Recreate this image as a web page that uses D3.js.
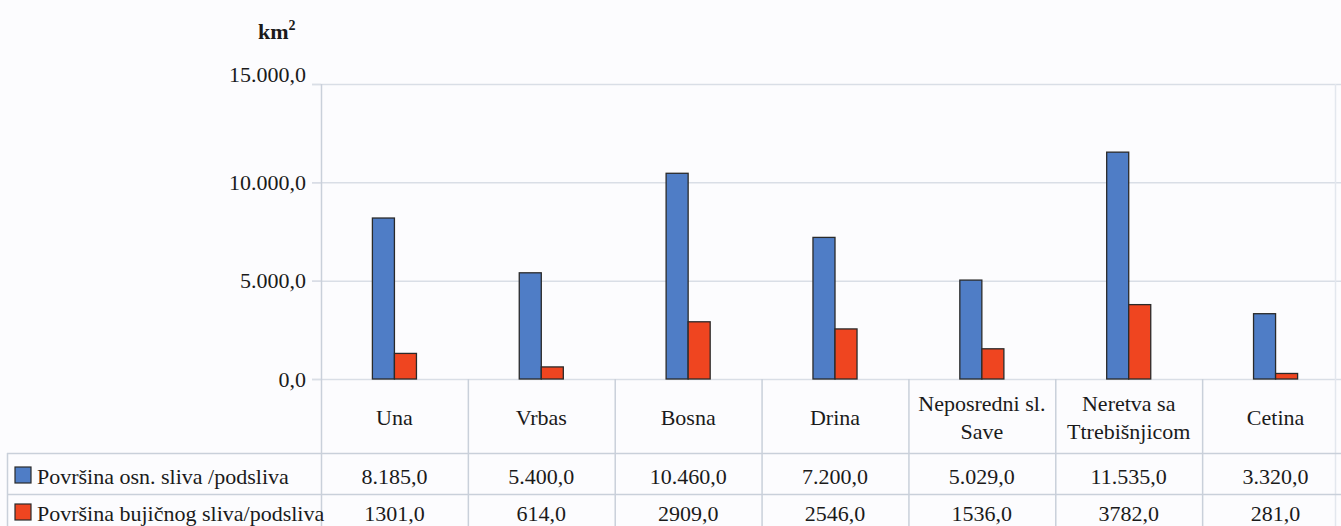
<!DOCTYPE html>
<html>
<head>
<meta charset="utf-8">
<script src="https://cdn.jsdelivr.net/npm/d3@7/dist/d3.min.js"></script>
<style>
  html, body { margin: 0; padding: 0; background: #fcfcfe; }
  svg { display: block; }
</style>
</head>
<body>
<svg id="chart" width="1341" height="526"></svg>
<script>
// ---- data ----
const categories = ["Una", "Vrbas", "Bosna", "Drina", "Neposredni sl.\nSave", "Neretva sa\nTtrebišnjicom", "Cetina"];
const seriesNames = ["Površina osn. sliva /podsliva", "Površina bujičnog sliva/podsliva"];
const basinArea = [8185, 5400, 10460, 7200, 5029, 11535, 3320];
const torrentArea = [1301, 614, 2909, 2546, 1536, 3782, 281];
const yTicks = [0, 5000, 10000, 15000];
const seriesColors = ["#4f7dc6", "#ef4520"];

// ---- setup ----
const FONT = '"Liberation Serif", "Times New Roman", serif';
const svg = d3.select("#chart");
const W = 1341, H = 526;
svg.append("rect").attr("width", W).attr("height", H).attr("fill", "#fcfcfe");

const loc = d3.formatLocale({decimal: ",", thousands: ".", grouping: [3], currency: ["", ""]});
const fmtGrouped = loc.format(",.1f");
const fmtPlain = loc.format(".1f");

const plotLeft = 321, plotRight = 1349, plotTop = 84, plotBottom = 379;
const x0 = d3.scaleBand().domain(categories).range([plotLeft, plotRight]).padding(0);
const x1 = d3.scaleBand().domain(seriesNames).range([x0.bandwidth() * 0.35, x0.bandwidth() * 0.65]).padding(0);
const y = d3.scaleLinear().domain([0, 15000]).range([plotBottom, plotTop]);

const gridColor = "#d9dee6";
const lineColor = "#c9d0da";
const textColor = "#1a1a1a";

// gridlines
svg.append("g").selectAll("line").data(yTicks).join("line")
  .attr("x1", plotLeft - 9).attr("x2", W)
  .attr("y1", d => y(d) + 0.5).attr("y2", d => y(d) + 0.5)
  .attr("stroke", gridColor).attr("stroke-width", 1.5);

// y axis
const yAxis = d3.axisLeft(y).tickValues(yTicks).tickFormat(fmtGrouped).tickSize(9).tickPadding(6);
const gy = svg.append("g").attr("transform", `translate(${plotLeft},0)`).call(yAxis);
gy.select(".domain").remove();
gy.selectAll(".tick line").attr("stroke", gridColor).attr("stroke-width", 1.5);
gy.selectAll(".tick text")
  .style("font-family", FONT).style("font-size", "22px").attr("fill", textColor)
  .attr("dy", d => d === 15000 ? "-0.12em" : "0.32em");

// vertical axis line (extends through the table)
svg.append("line").attr("x1", plotLeft + 0.5).attr("x2", plotLeft + 0.5)
  .attr("y1", plotTop).attr("y2", H).attr("stroke", lineColor).attr("stroke-width", 1.5);

// faint right border
svg.append("line").attr("x1", 1335.5).attr("x2", 1335.5)
  .attr("y1", plotTop).attr("y2", H).attr("stroke", "#e3e7ee").attr("stroke-width", 1.5);

// y title
const yt = svg.append("text").attr("x", 258).attr("y", 39)
  .style("font-family", FONT).style("font-size", "22px").style("font-weight", "bold").attr("fill", textColor);
yt.append("tspan").text("km");
yt.append("tspan").text("2").attr("dy", "-9").style("font-size", "14px");

// bars
const groups = svg.append("g").selectAll("g").data(categories).join("g")
  .attr("transform", d => `translate(${x0(d)},0)`);
groups.selectAll("rect").data((d, i) => [
    {s: seriesNames[0], v: basinArea[i], c: seriesColors[0]},
    {s: seriesNames[1], v: torrentArea[i], c: seriesColors[1]}
  ]).join("rect")
  .attr("x", d => x1(d.s))
  .attr("width", x1.bandwidth())
  .attr("y", d => y(d.v))
  .attr("height", d => y(0) - y(d.v))
  .attr("fill", d => d.c)
  .attr("stroke", "#2a2a2a").attr("stroke-width", 1.3);

// ---- data table ----
const row0Top = plotBottom, row1Top = 453, row2Top = 494;
const tableLeft = 7;

// category dividers
svg.append("g").selectAll("line").data(categories.slice(1)).join("line")
  .attr("x1", d => x0(d) + 0.5).attr("x2", d => x0(d) + 0.5)
  .attr("y1", row0Top).attr("y2", H)
  .attr("stroke", lineColor).attr("stroke-width", 1.5);

// horizontal row lines
svg.append("g").selectAll("line").data([row1Top, row2Top]).join("line")
  .attr("x1", tableLeft).attr("x2", W)
  .attr("y1", d => d + 0.5).attr("y2", d => d + 0.5)
  .attr("stroke", lineColor).attr("stroke-width", 1.5);
// table left border
svg.append("line").attr("x1", tableLeft + 0.5).attr("x2", tableLeft + 0.5)
  .attr("y1", row1Top).attr("y2", H).attr("stroke", lineColor).attr("stroke-width", 1.5);

// category labels
const labelCenter = 417;
svg.append("g").selectAll("text").data(categories).join("text")
  .attr("text-anchor", "middle")
  .style("font-family", FONT).style("font-size", "22px").attr("fill", textColor)
  .each(function(d) {
    const lines = d.split("\n");
    const t = d3.select(this);
    const lh = 28;
    const startY = labelCenter - (lines.length - 1) * lh / 2;
    lines.forEach((ln, k) => {
      t.append("tspan").attr("x", x0(d) + x0.bandwidth() / 2)
        .attr("y", startY + k * lh).attr("dy", "0.35em").text(ln);
    });
  });

// data rows
const rows = [
  {name: seriesNames[0], vals: basinArea, fmt: fmtGrouped, color: seriesColors[0], cy: 476},
  {name: seriesNames[1], vals: torrentArea, fmt: fmtPlain, color: seriesColors[1], cy: 513}
];
rows.forEach(r => {
  svg.append("rect").attr("x", 15).attr("y", r.cy - 9).attr("width", 16).attr("height", 16)
    .attr("fill", r.color).attr("stroke", "#2a2a2a").attr("stroke-width", 1.2);
  svg.append("text").attr("x", 37).attr("y", r.cy).attr("dy", "0.35em")
    .style("font-family", FONT).style("font-size", "22px").attr("fill", textColor)
    .text(r.name);
  svg.append("g").selectAll("text").data(categories).join("text")
    .attr("x", d => x0(d) + x0.bandwidth() / 2)
    .attr("y", r.cy).attr("dy", "0.35em")
    .attr("text-anchor", "middle")
    .style("font-family", FONT).style("font-size", "22px").attr("fill", textColor)
    .text((d, i) => r.fmt(r.vals[i]));
});
</script>
</body>
</html>
